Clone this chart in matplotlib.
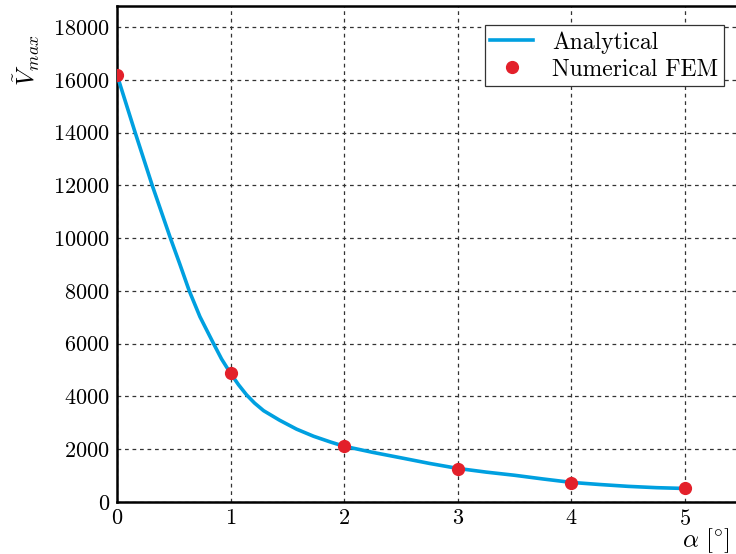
import matplotlib
matplotlib.use('Agg')
import matplotlib.pyplot as plt

plt.rcParams['font.family'] = ['cmr10', 'DejaVu Serif']
plt.rcParams['mathtext.fontset'] = 'cm'
plt.rcParams['axes.formatter.use_mathtext'] = True

# analytical curve
alpha_curve = [0, 0.16, 0.31, 0.47, 0.55, 0.636, 0.73, 0.85, 0.92, 1.0, 1.07, 1.14,
               1.21, 1.29, 1.43, 1.58, 1.73, 1.88, 2.0, 2.25, 2.49, 2.75, 3.0, 3.25,
               3.5, 3.75, 4.0, 4.25, 4.5, 4.75, 5.0]
v_curve = [16190, 14000, 12000, 10000, 9050, 8000, 7020, 6000, 5420, 4870, 4440, 4060,
           3750, 3460, 3100, 2760, 2490, 2270, 2110, 1880, 1680, 1460, 1270, 1130,
           1010, 870, 740, 660, 590, 540, 510]

# FEM points
alpha_fem = [0, 1, 2, 3, 4, 5]
v_fem = [16190, 4870, 2110, 1265, 735, 510]

fig = plt.figure(figsize=(7.36, 5.54), dpi=100)
ax = fig.add_axes([0.159, 0.094, 0.849, 0.895])

ax.plot(alpha_curve, v_curve, color='#00a0e0', lw=2.6, label='Analytical', zorder=3)
ax.plot(alpha_fem, v_fem, 'o', color='#e3202a', ms=8.5, label='Numerical FEM', zorder=4)

ax.set_xlim(0, 5.5)
ax.set_ylim(0, 18800)
ax.set_xticks([0, 1, 2, 3, 4, 5])
ax.set_yticks(range(0, 18001, 2000))
ax.tick_params(length=0, labelsize=16, pad=5)

ax.grid(True, color='#333333', linestyle=(0, (3, 3)), linewidth=0.9)
for s in ax.spines.values():
    s.set_linewidth(1.8)

ax.set_ylabel(r'$\tilde{V}_{max}$', fontsize=18)
ax.yaxis.set_label_coords(-0.12, 0.89)
ax.set_xlabel(r'$\alpha\ [^{\circ}]$', fontsize=18)
ax.xaxis.set_label_coords(0.943, -0.05)

leg = ax.legend(loc='upper right', bbox_to_anchor=(0.99, 0.985), fontsize=17,
                fancybox=False, framealpha=1, edgecolor='#333333', numpoints=1,
                handlelength=1.8, borderpad=0.25, labelspacing=0.2)
leg.get_frame().set_linewidth(0.9)

fig.savefig('out.png', dpi=100)
